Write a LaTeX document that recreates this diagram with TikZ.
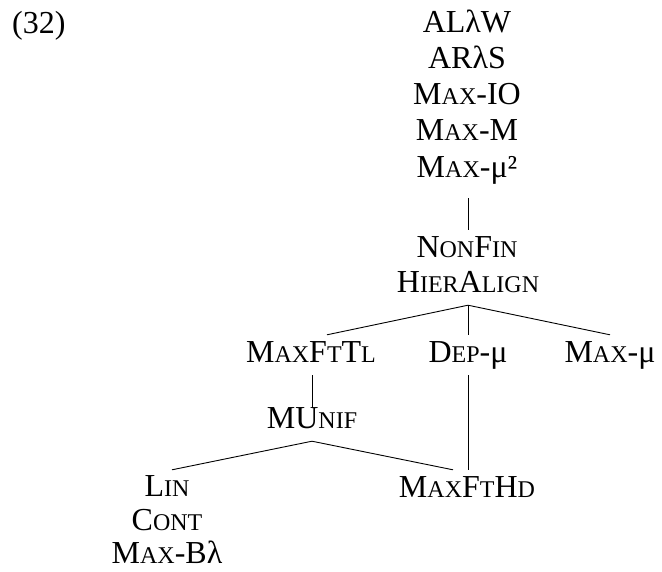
\documentclass[tikz,border=0pt]{standalone}
\usepackage{fontspec}
\setmainfont{Liberation Serif}
\newcommand\sm[1]{{\fontsize{24}{24}\selectfont #1}}
\tikzset{
  lbl/.style={inner sep=0pt, text height=27pt, text depth=13pt, anchor=base, font=\fontsize{32}{36}\selectfont},
  edge/.style={line width=0.9pt, black}
}
\begin{document}
\begin{tikzpicture}[x=1pt,y=-1pt]
\useasboundingbox (0,0) rectangle (662,571);
\node[lbl, anchor=base west] (num) at (12,33) {(32)};
\node[lbl] (top1) at (467,32) {ALλW};
\node[lbl] (top2) at (467,68) {ARλS};
\node[lbl] (top3) at (467,104) {M\sm{AX}-IO};
\node[lbl] (top4) at (467,140) {M\sm{AX}-M};
\node[lbl] (top5) at (467,177) {M\sm{AX}-μ²};
\node[lbl] (nonfin) at (467,257) {N\sm{ON}F\sm{IN}};
\node[lbl] (hier) at (468,292) {H\sm{IER}A\sm{LIGN}};
\node[lbl] (maxfttl) at (311,362) {M\sm{AX}F\sm{T}T\sm{L}};
\node[lbl] (dep) at (468,362) {D\sm{EP}-μ};
\node[lbl] (maxmu) at (610,362) {M\sm{AX}-μ};
\node[lbl] (munif) at (312,428) {MU\sm{NIF}};
\node[lbl] (lin) at (167,496) {L\sm{IN}};
\node[lbl] (cont) at (167,530) {C\sm{ONT}};
\node[lbl, text height=22pt, text depth=1pt] (maxb) at (167,563) {M\sm{AX}-Bλ};
\node[lbl] (maxfthd) at (467,497) {M\sm{AX}F\sm{T}H\sm{D}};
\draw[edge] ([xshift=1pt,yshift=-8pt]top5.south) -- ([xshift=1pt]nonfin.north);
\draw[edge] (hier.south) -- ([xshift=16pt]maxfttl.north);
\draw[edge] (hier.south) -- (dep.north);
\draw[edge] (hier.south) -- (maxmu.north);
\draw[edge] ([xshift=1pt]maxfttl.south) -- ([yshift=-7pt]munif.north);
\draw[edge] (munif.south) -- ([xshift=5pt,yshift=-1pt]lin.north);
\draw[edge] (munif.south) -- ([xshift=-14pt]maxfthd.north);
\draw[edge] (dep.south) -- ([xshift=1pt]maxfthd.north);
\end{tikzpicture}
\end{document}
